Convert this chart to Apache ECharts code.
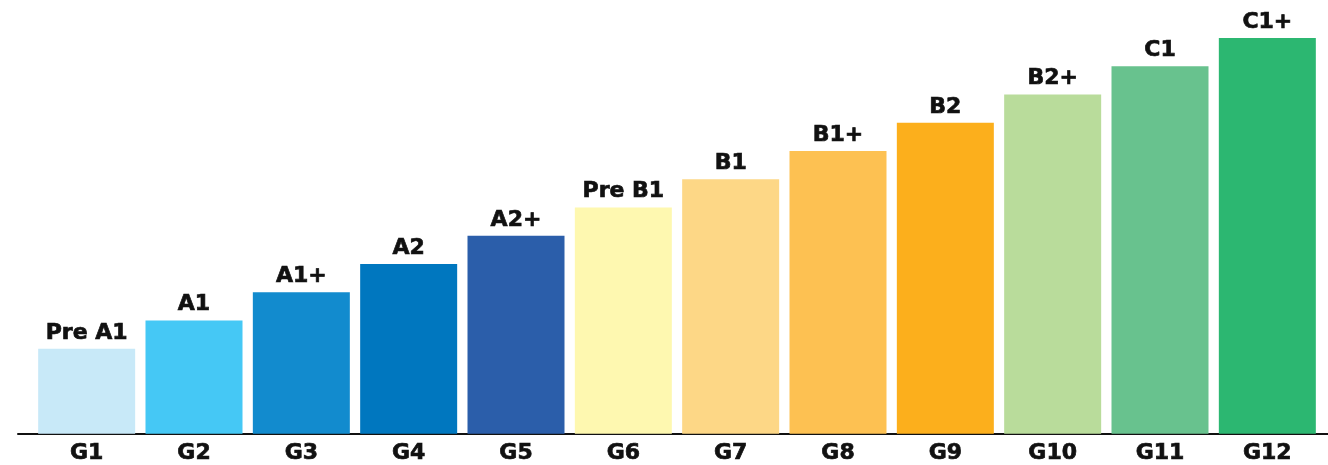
<!DOCTYPE html>
<html>
<head>
<meta charset="utf-8">
<script src="https://cdn.jsdelivr.net/npm/echarts@6/dist/echarts.min.js"></script>
<style>html,body{margin:0;padding:0;background:#fff}#c{width:1328px;height:465px}</style>
</head>
<body>
<div id="c"></div>
<script>
const categories = ['G1','G2','G3','G4','G5','G6','G7','G8','G9','G10','G11','G12'];
const levels = ['Pre A1','A1','A1+','A2','A2+','Pre B1','B1','B1+','B2','B2+','C1','C1+'];
const values = [3,4,5,6,7,8,9,10,11,12,13,14];
const colors = ['#C8E9F8','#45C8F5','#128BCE','#0077BF','#2B5EAA','#FEF8B0','#FDD786','#FDC152','#FCAF1C','#B9DC9B','#68C28E','#2CB771'];

const font = '"DejaVu Sans", sans-serif';
const chart = echarts.init(document.getElementById('c'), null, {renderer:'canvas'});
chart.setOption({
  animation: false,
  grid: [
    {left: 33, right: 7, top: 38, bottom: 31},
    {left: 18, right: 0, top: 38, bottom: 31}
  ],
  xAxis: [
    {
      type: 'category', data: categories, gridIndex: 0,
      axisLine: {show: false}, axisTick: {show: false},
      axisLabel: {color: '#111', fontFamily: font, fontWeight: 'bold', fontSize: 22, margin: 9,
                  textBorderColor: '#111', textBorderWidth: 0.7}
    },
    {
      type: 'value', gridIndex: 1, min: 0, max: 1,
      axisLine: {show: true, onZero: false, lineStyle: {color: '#111', width: 2}},
      axisTick: {show: false}, axisLabel: {show: false}, splitLine: {show: false}
    }
  ],
  yAxis: [
    {type: 'value', gridIndex: 0, min: 0, max: 14, show: false},
    {type: 'value', gridIndex: 1, min: 0, max: 1, show: false}
  ],
  series: [{
    type: 'bar',
    xAxisIndex: 0, yAxisIndex: 0,
    barWidth: 97,
    data: values.map((v, i) => ({value: v, itemStyle: {color: colors[i]}})),
    label: {
      show: true, position: 'top', distance: 5,
      formatter: p => levels[p.dataIndex],
      color: '#111', fontFamily: font, fontWeight: 'bold', fontSize: 22,
      textBorderColor: '#111', textBorderWidth: 0.7
    }
  }]
});
</script>
</body>
</html>
